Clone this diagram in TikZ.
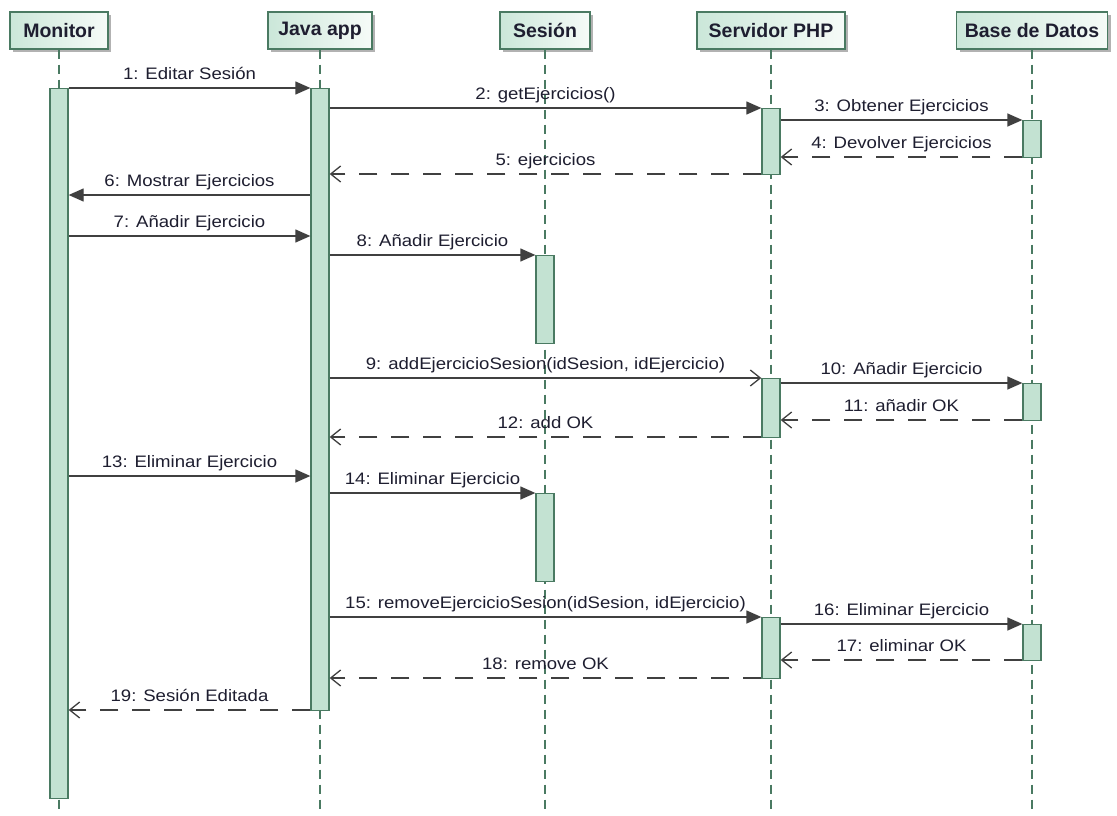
\documentclass[tikz,border=0pt]{standalone}
\usepackage{fontspec}
\setmainfont{Liberation Sans}
\newfontfamily\msgfont[FakeStretch=1.12]{Liberation Sans}
\usetikzlibrary{arrows.meta,shadows}

\definecolor{lineg}{HTML}{4A7A62}
\definecolor{actfill}{HTML}{C3E2D2}
\definecolor{hdl}{HTML}{CBE7D9}
\definecolor{hdr}{HTML}{F6FBF8}
\definecolor{ink}{HTML}{404040}
\definecolor{txt}{HTML}{1E1E30}

\begin{document}
\begin{tikzpicture}[x=1pt,y=-1pt,
  head/.style={draw=lineg, line width=1.3pt, left color=hdl, right color=hdr,
    minimum height=37pt, inner sep=0pt, text=txt,
    font=\bfseries\fontsize{19.5}{20}\selectfont,
    drop shadow={shadow xshift=3pt, shadow yshift=-3pt, fill=black!30, opacity=1}},
  life/.style={draw=lineg, line width=1.3pt, dash pattern=on 9pt off 6pt},
  act/.style={draw=lineg, line width=1.3pt, fill=actfill, minimum width=18pt,
    inner sep=0pt, anchor=north},
  call/.style={draw=ink, line width=1.3pt, -{Triangle[length=15pt,width=13pt]}},
  async/.style={draw=ink, line width=1.3pt, -{Straight Barb[length=10pt,width=16pt]}},
  reply/.style={draw=ink, line width=1.3pt, dash pattern=on 18pt off 14pt,
    -{Straight Barb[length=10pt,width=16pt]}},
  lbl/.style={anchor=base, yshift=8.5pt, inner sep=0pt, text=txt,
    font=\msgfont\fontsize{16.6}{18}\selectfont}
]
\fill[white] (0,0) rectangle (1117,816);
\useasboundingbox (0,0) rectangle (1117,816);

% participants
\node[head, minimum width=98pt]  (mon) at (59,30.5)   {Monitor};
\node[head, minimum width=104pt] (jav) at (320,30.5)  {Java app};
\node[head, minimum width=90pt]  (ses) at (545,30.5)  {Sesión};
\node[head, minimum width=148pt] (srv) at (771,30.5)  {Servidor PHP};
\node[head, minimum width=151pt] (db)  at (1032,30.5) {Base de Datos};

% lifelines
\foreach \p in {mon,jav,ses,srv,db}
  \draw[life] (\p.south) -- (\p.south |- 0,814);

% activation bars
\node[act, minimum height=710pt] (monA)  at (59,88)   {};
\node[act, minimum height=622pt] (javA)  at (320,88)  {};
\node[act, minimum height=66pt]  (srvA1) at (771,108) {};
\node[act, minimum height=37pt]  (dbA1)  at (1032,120) {};
\node[act, minimum height=88pt]  (sesA1) at (545,255) {};
\node[act, minimum height=59pt]  (srvA2) at (771,378) {};
\node[act, minimum height=37pt]  (dbA2)  at (1032,383) {};
\node[act, minimum height=88pt]  (sesA2) at (545,493) {};
\node[act, minimum height=61pt]  (srvA3) at (771,617) {};
\node[act, minimum height=36pt]  (dbA3)  at (1032,624) {};

% messages
\draw[call]  (monA.east |- 0,88)  -- node[lbl]{1: Editar Sesión} (javA.west |- 0,88);
\draw[call]  (javA.east |- 0,108) -- node[lbl]{2: getEjercicios()} (srvA1.west |- 0,108);
\draw[call]  (srvA1.east |- 0,120) -- node[lbl]{3: Obtener Ejercicios} (dbA1.west |- 0,120);
\draw[reply] (dbA1.west |- 0,157) -- node[lbl]{4: Devolver Ejercicios} (srvA1.east |- 0,157);
\draw[reply] (srvA1.west |- 0,174) -- node[lbl]{5: ejercicios} (javA.east |- 0,174);
\draw[call]  (javA.west |- 0,195) -- node[lbl]{6: Mostrar Ejercicios} (monA.east |- 0,195);
\draw[call]  (monA.east |- 0,236) -- node[lbl]{7: Añadir Ejercicio} (javA.west |- 0,236);
\draw[call]  (javA.east |- 0,255) -- node[lbl]{8: Añadir Ejercicio} (sesA1.west |- 0,255);
\draw[async] (javA.east |- 0,378) -- node[lbl]{9: addEjercicioSesion(idSesion, idEjercicio)} (srvA2.west |- 0,378);
\draw[call]  (srvA2.east |- 0,383) -- node[lbl]{10: Añadir Ejercicio} (dbA2.west |- 0,383);
\draw[reply] (dbA2.west |- 0,420) -- node[lbl]{11: añadir OK} (srvA2.east |- 0,420);
\draw[reply] (srvA2.west |- 0,437) -- node[lbl]{12: add OK} (javA.east |- 0,437);
\draw[call]  (monA.east |- 0,476) -- node[lbl]{13: Eliminar Ejercicio} (javA.west |- 0,476);
\draw[call]  (javA.east |- 0,493) -- node[lbl]{14: Eliminar Ejercicio} (sesA2.west |- 0,493);
\draw[call]  (javA.east |- 0,617) -- node[lbl]{15: removeEjercicioSesion(idSesion, idEjercicio)} (srvA3.west |- 0,617);
\draw[call]  (srvA3.east |- 0,624) -- node[lbl]{16: Eliminar Ejercicio} (dbA3.west |- 0,624);
\draw[reply] (dbA3.west |- 0,660) -- node[lbl]{17: eliminar OK} (srvA3.east |- 0,660);
\draw[reply] (srvA3.west |- 0,678) -- node[lbl]{18: remove OK} (javA.east |- 0,678);
\draw[reply] (javA.west |- 0,710) -- node[lbl]{19: Sesión Editada} (monA.east |- 0,710);
\end{tikzpicture}
\end{document}
